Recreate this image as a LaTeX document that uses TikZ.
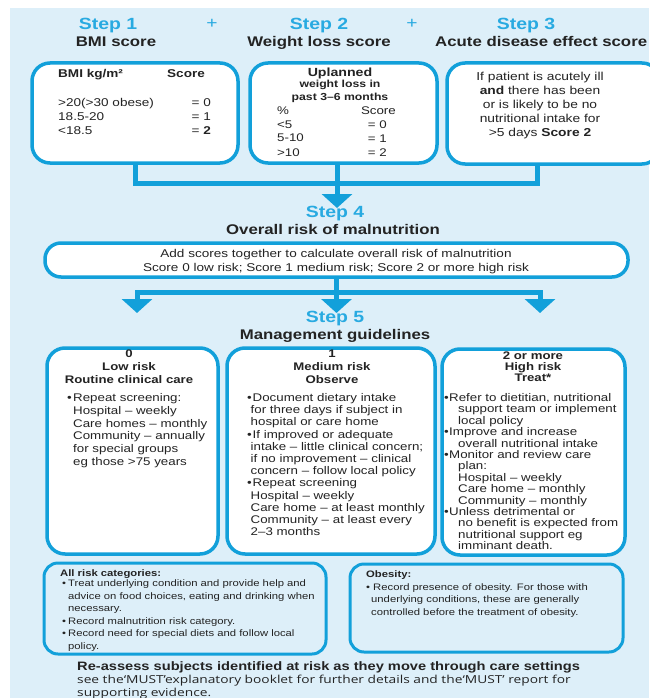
\documentclass[tikz,border=0pt]{standalone}
\usepackage{fontspec}
\setmainfont{Liberation Sans}[FakeStretch=1.2]
\setsansfont{Liberation Sans}[FakeStretch=1.2]
\newfontfamily\notefont{Open Sans}[FakeStretch=1.25]
\usepackage{tikz}
\usetikzlibrary{arrows.meta, positioning}

\definecolor{mustblue}{RGB}{18,160,218}
\definecolor{steptext}{RGB}{40,170,225}
\definecolor{panel}{RGB}{221,239,249}
\definecolor{ink}{RGB}{35,35,35}

\newcommand{\fs}[2]{\fontsize{#1}{#2}\selectfont}
\newcommand{\bul}[1]{\makebox[#1][l]{\textbullet}}

\begin{document}
\begin{tikzpicture}[
    x=1pt, y=-1pt,
    box/.style={draw=mustblue, fill=white, line width=3.5pt, rounded corners=18pt, inner sep=0pt},
    notebox/.style={draw=mustblue, line width=3pt, rounded corners=14pt, inner sep=0pt},
    link/.style={draw=mustblue, line width=5pt, line join=miter},
    head/.style={-{Triangle[width=30pt,length=14pt]}},
    steplbl/.style={font=\bfseries\fs{16.2}{18}, text=steptext, inner sep=0pt, anchor=mid},
    plus/.style={font=\fs{16}{18}, text=steptext, inner sep=0pt, anchor=mid},
    title/.style={font=\bfseries\fs{14}{15}, text=ink, inner sep=0pt, anchor=mid},
    txt/.style={inner sep=0pt, anchor=base west, align=left, text=ink},
]
\useasboundingbox (0,0) rectangle (649,698);
\fill[panel] (10,8) rectangle (649,698);

% Steps 1-3
\node[steplbl] (s1) at (108,27) {Step 1};
\node[title] (s1t) at (116,44) {BMI score};
\node[plus] (p1) at (212,26) {+};
\node[steplbl] (s2) at (319,27) {Step 2};
\node[title] (s2t) at (319,44) {Weight loss score};
\node[plus] (p2) at (412,26) {+};
\node[steplbl] (s3) at (526,27) {Step 3};
\node[title, anchor=mid west] (s3t) at (435,44) {Acute disease effect score};

\node[box, minimum width=206pt, minimum height=100pt] (bmi) at (135,113) {};
\node[box, minimum width=187pt, minimum height=100pt] (wtloss) at (343.5,113) {};
\node[box, minimum width=213pt, minimum height=101pt] (acute) at (553.5,113.5) {};

% BMI (multi-line texts sit on the baseline of their last line)
\node[txt, font=\bfseries\fs{11.3}{14}] (bmihd) at (58,78) {BMI kg/m²};
\node[txt, font=\bfseries\fs{11.3}{14}] (bmisc) at (167,78) {Score};
\node[txt, font=\fs{11.3}{14}] (bmirows) at (58,134) {>20(>30 obese)\\18.5-20\\<18.5};
\node[txt, anchor=base east, align=right, font=\fs{11.3}{14}] (bmipts) at (211,134) {= 0\\= 1\\= \textbf{2}};

% weight loss
\node[txt, anchor=base, align=center, font=\bfseries\fs{11.8}{12}] (wlhd) at (340,77) {Uplanned};
\node[txt, anchor=base, align=center, font=\bfseries\fs{10.2}{13}] (wlsub) at (340,100.5) {weight loss in\\past 3–6 months};
\node[txt, font=\fs{11.1}{14}] (wlpc) at (277,156) {\%\\<5\\5-10\\>10};
\node[txt, anchor=base east, align=right, font=\fs{11.1}{14}] (wlsc) at (396,114) {Score};
\node[txt, anchor=base east, align=right, font=\fs{11.1}{14}] (wlpts) at (387,156) {= 0\\= 1\\= 2};

% acute disease
\node[txt, anchor=base, align=center, font=\fs{11.5}{13.8}] (acutetx) at (540,136.2) {If patient is acutely ill\\\textbf{and} there has been\\or is likely to be no\\nutritional intake for\\>5 days \textbf{Score 2}};

% Step 4
\coordinate (jl) at (135,183);
\coordinate (jr) at (537,183);
\coordinate (tip4) at (337,208);
\draw[link] (bmi.south) -- (jl) -- (jr) -- (acute.south -| jr);
\draw[link, head] (tip4 |- wtloss.south) -- (tip4);

\node[steplbl] (s4) at (335,215) {Step 4};
\node[title] (s4t) at (333,232) {Overall risk of malnutrition};
\node[box, rounded corners=16pt, minimum width=583pt, minimum height=34pt] (overall) at (336.5,260) {};
\node[txt, anchor=base, align=center, font=\fs{11.3}{14}] (overalltx) at (336,271) {Add scores together to calculate overall risk of malnutrition\\Score 0 low risk; Score 1 medium risk; Score 2 or more high risk};

% Step 5
\coordinate (split) at (336.5,292);
\coordinate (tipl) at (137,313);
\coordinate (tipm) at (336.5,313);
\coordinate (tipr) at (540,313);
\draw[link, {Triangle[width=30pt,length=14pt]}-{Triangle[width=30pt,length=14pt]}] (tipl) -- (tipl |- split) -- (tipr |- split) -- (tipr);
\draw[link, head] (overall.south) -- (tipm);

\node[steplbl] (s5) at (335,320) {Step 5};
\node[title] (s5t) at (335,337) {Management guidelines};

\node[box, minimum width=171pt, minimum height=206pt] (low) at (132.5,451) {};
\node[box, minimum width=208pt, minimum height=206pt] (medium) at (331,451) {};
\node[box, minimum width=183pt, minimum height=206pt] (high) at (533.5,452) {};

\node[txt, anchor=base, align=center, font=\bfseries\fs{11}{13}] (lowhd) at (129,383.5) {0\\Low risk\\Routine clinical care};
\node[txt, font=\fs{11.1}{12.8}] (lowtx) at (67,465.5) {\bul{6pt}Repeat screening:\\\hspace*{6pt}Hospital – weekly\\\hspace*{6pt}Care homes – monthly\\\hspace*{6pt}Community – annually\\\hspace*{6pt}for special groups\\\hspace*{6pt}eg those >75 years};

\node[txt, anchor=base, align=center, font=\bfseries\fs{11}{13}] (medhd) at (332,383.5) {1\\Medium risk\\Observe};
\node[txt, font=\fs{11.1}{12.2}] (medtx) at (247,535.7) {\bul{5.5pt}Document  dietary intake\\\hspace*{3.5pt}for three days if subject in\\\hspace*{3.5pt}hospital or care home\\\bul{5.5pt}If improved or adequate\\\hspace*{3.5pt}intake – little clinical concern;\\\hspace*{3.5pt}if no improvement – clinical\\\hspace*{3.5pt}concern – follow local policy\\\bul{5.5pt}Repeat screening\\\hspace*{3.5pt}Hospital – weekly\\\hspace*{3.5pt}Care home – at least monthly\\\hspace*{3.5pt}Community – at least every\\\hspace*{3.5pt}2–3 months};

\node[txt, anchor=base, align=center, font=\bfseries\fs{11}{11}] (highhd) at (533,381.5) {2 or more\\High risk\\Treat*};
\node[txt, font=\fs{11.1}{11.4}] (hightx) at (444,549.7) {\bul{5pt}Refer to dietitian, nutritional\\\hspace*{14pt}support team or implement\\\hspace*{14pt}local policy\\\bul{5pt}Improve and increase\\\hspace*{14pt}overall nutritional intake\\\bul{5pt}Monitor and review care\\\hspace*{14pt}plan:\\\hspace*{14pt}Hospital – weekly\\\hspace*{14pt}Care home – monthly\\\hspace*{14pt}Community – monthly\\\bul{5pt}Unless detrimental or\\\hspace*{14pt}no benefit is expected from\\\hspace*{14pt}nutritional support eg\\\hspace*{14pt}imminant death.};

% notes
\node[notebox, minimum width=282pt, minimum height=91pt] (allrisk) at (185,608.5) {};
\node[notebox, minimum width=273pt, minimum height=88pt] (obesity) at (486.5,608) {};

\node[txt, font=\bfseries\fs{9.4}{12}] (allhd) at (60,576) {All risk categories:};
\node[txt, font=\fs{9.4}{12.6}] (alltx) at (62,649.5) {\bul{6pt}Treat underlying condition and provide help and\\\hspace*{6pt}advice on food choices, eating and drinking when\\\hspace*{6pt}necessary.\\\bul{6pt}Record malnutrition risk category.\\\bul{6pt}Record need for special diets and follow local\\\hspace*{6pt}policy.};

\node[txt, font=\bfseries\fs{9.4}{12}] (obhd) at (366,577) {Obesity:};
\node[txt, font=\fs{9.4}{12.5}] (obtx) at (366,615) {\bul{7pt}Record presence of obesity. For those with\\\hspace*{5pt}underlying conditions, these are generally\\\hspace*{5pt}controlled before the treatment of obesity.};

\node[txt, font=\bfseries\fs{12.2}{13}] (reassess) at (77,670) {Re-assess subjects identified at risk as they move through care settings};
\node[txt, font=\notefont\fs{11}{12.8}] (seebook) at (77,696) {see the‘MUST’explanatory booklet for further details and the‘MUST’ report for\\supporting evidence.};
\end{tikzpicture}
\end{document}
